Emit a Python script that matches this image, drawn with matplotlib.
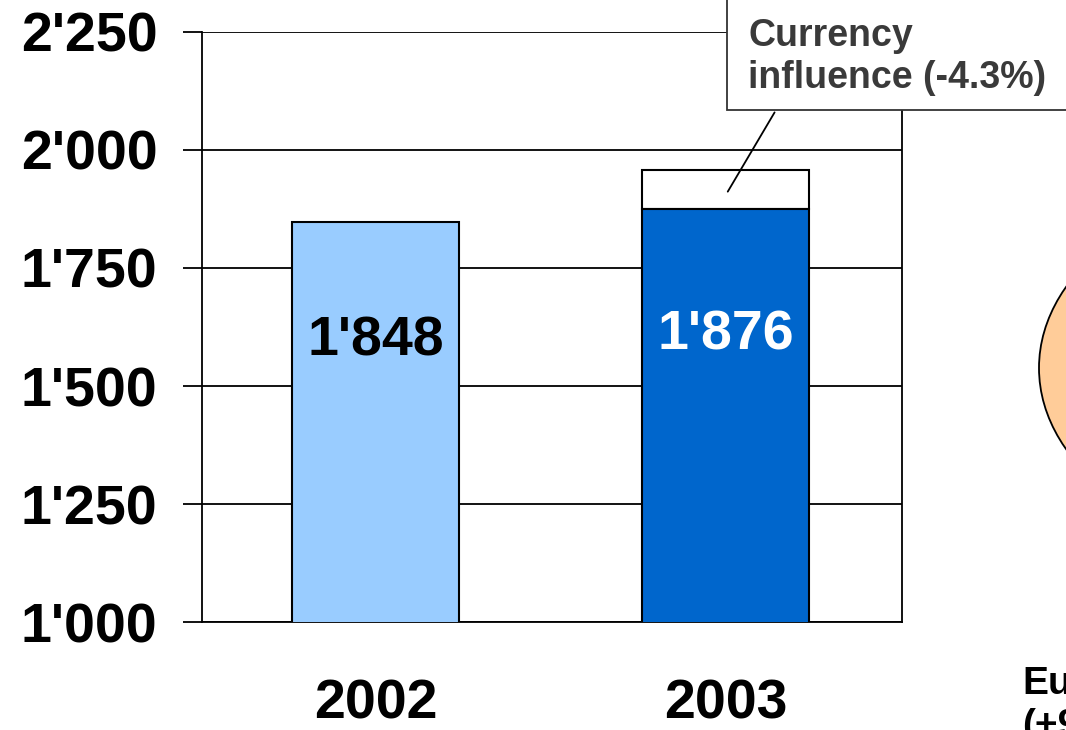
import matplotlib.pyplot as plt
from matplotlib.patches import Circle, Rectangle
from matplotlib.ticker import FuncFormatter

plt.rcParams['font.family'] = ['Liberation Sans', 'DejaVu Sans']

years = ['2002', '2003']
sales = [1848, 1876]
currency_effect = -4.3  # percent
# 2003 at constant currency
sales_const = sales[1] * (1 - currency_effect / 100)
bar_colors = ['#99CCFF', '#0066CC']
label_colors = ['black', 'white']
y_ticks = [1000, 1250, 1500, 1750, 2000, 2250]


def swiss(v, pos=None):
    v = int(round(v))
    if v >= 1000:
        return "{}'{:03d}".format(v // 1000, v % 1000)
    return str(v)


fig = plt.figure(figsize=(10.66, 7.30), dpi=100)
ax = fig.add_axes([0.1895, 0.1479, 0.6567, 0.8083])

x = range(len(years))
width = 0.477

# white segment showing the currency influence on top of 2003
ax.bar(1, sales_const - sales[1], bottom=sales[1], width=width,
       color='white', edgecolor='black', linewidth=1.5, zorder=3)
bars = ax.bar(x, sales, width=width, color=bar_colors, edgecolor='black',
              linewidth=1.5, zorder=3, bottom=0)

label_drop = [253, 268]
for i, v in enumerate(sales):
    ax.text(i, v - label_drop[i], swiss(v), ha='center', va='center',
            fontsize=40, fontweight='bold', color=label_colors[i], zorder=4)

ax.set_ylim(1000, 2250)
ax.set_xlim(-0.496, 1.504)
ax.set_yticks(y_ticks)
ax.yaxis.set_major_formatter(FuncFormatter(swiss))
ax.set_xticks(list(x))
ax.set_xticklabels(years)
ax.grid(axis='y', color='black', linewidth=1.3, zorder=0)
ax.tick_params(axis='y', length=14, width=1.3, pad=18, labelsize=40)
ax.tick_params(axis='x', length=0, pad=41, labelsize=40)
for lab in ax.get_yticklabels() + ax.get_xticklabels():
    lab.set_fontweight('bold')
for side in ['left', 'right', 'bottom', 'top']:
    ax.spines[side].set_linewidth(1.3)
    ax.spines[side].set_color('black')
ax.spines['top'].set_visible(False)

# callout box for the currency effect
box = Rectangle((727 / 1066, 620 / 730), 0.4, 0.2, transform=fig.transFigure,
                facecolor='white', edgecolor='#333333', linewidth=1.3, zorder=5)
fig.patches.append(box)
fig.text(748 / 1066, 1 - 57 / 730,
         'Currency\ninfluence ({:.1f}%)'.format(currency_effect),
         ha='left', va='center', fontsize=27, fontweight='bold',
         color='#3a3a3a', linespacing=1.2, zorder=6)
ax.annotate('', xy=(1.002, sales_const - 50), xycoords='data',
            xytext=(776 / 1066, 1 - 110 / 730), textcoords='figure fraction',
            arrowprops=dict(arrowstyle='-', color='black', lw=1.3),
            annotation_clip=False)

# edge of the regional pie on the right
pie = Circle((1312 / 1066, 1 - 368 / 730), 273 / 1066,
             transform=fig.transFigure, facecolor='#FFCC99',
             edgecolor='black', linewidth=1.3)
fig.patches.append(pie)
fig.text(1022 / 1066, 1 - 666 / 730, 'Europe\n(+9%)', ha='left', va='top',
         fontsize=28, fontweight='bold', color='black', linespacing=1.2)

fig.savefig('out.png', dpi=100)
